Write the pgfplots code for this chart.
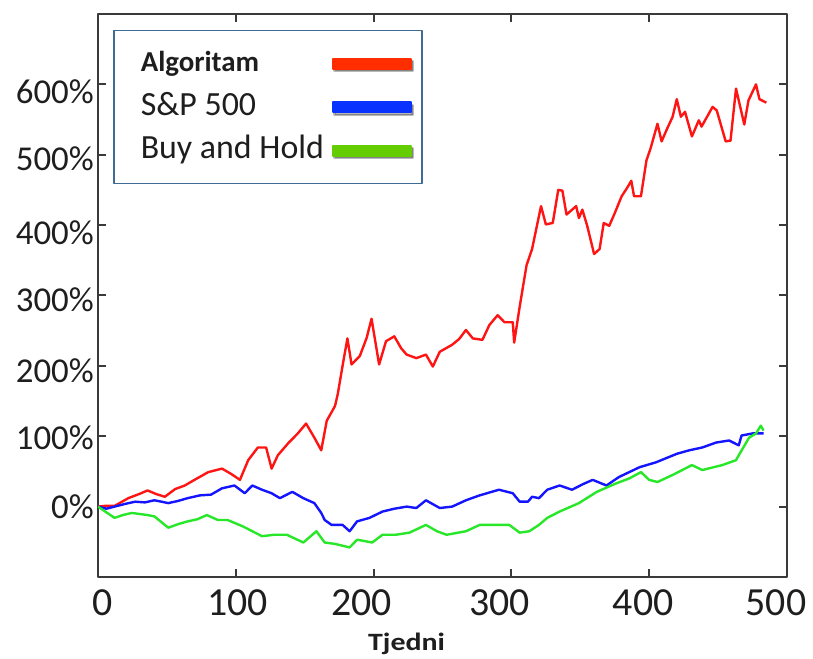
\documentclass[border=0pt]{standalone}
\usepackage{fontspec}
\setmainfont{Carlito}
\usepackage{graphicx}
\usepackage{pgfplots}
\pgfplotsset{compat=1.18}
\definecolor{axgray}{RGB}{58,58,58}
\definecolor{ticktext}{RGB}{30,30,30}
\definecolor{legblue}{RGB}{62,108,150}
\definecolor{lred}{RGB}{255,20,20}
\definecolor{lblue}{RGB}{20,20,255}
\definecolor{lgreen}{RGB}{40,230,40}
\definecolor{legred}{RGB}{255,45,0}
\definecolor{legbl}{RGB}{10,50,255}
\definecolor{leggr}{RGB}{100,205,0}
\newcommand{\xl}[2]{\makebox[0pt]{\hspace*{#1}#2}}
\newcommand{\yl}[2]{\raisebox{#1}[0pt][0pt]{#2}}
\begin{document}
\begin{tikzpicture}
\begin{axis}[
  scale only axis,
  width=689bp, height=563bp,
  xmin=0, xmax=500, ymin=-100, ymax=700,
  xtick={0,100,200,300,400,500},
  xticklabels={\xl{10bp}{0},\xl{4bp}{100},\xl{-24bp}{200},\xl{-24bp}{300},\xl{-12bp}{400},\xl{-22bp}{500}},
  ytick={0,100,200,300,400,500,600},
  yticklabels={\yl{-12bp}{0\%},\yl{-13bp}{100\%},\yl{-17bp}{200\%},\yl{-16bp}{300\%},\yl{-19bp}{400\%},\yl{-16bp}{500\%},\yl{-19bp}{600\%}},
  yticklabel style={font=\fontsize{35}{35}\selectfont, inner sep=0pt, xshift=-4bp, text=ticktext},
  xticklabel style={font=\fontsize{40}{40}\selectfont, inner sep=0pt, yshift=-12bp, text=ticktext},
  axis line style={line width=2.5bp, draw=axgray},
  tick style={line width=2bp, color=axgray},
  major tick length=8bp,
  xlabel={\fontsize{25}{25}\selectfont\bfseries\scalebox{1.2}[1]{Tjedni}},
  xlabel style={at={(axis description cs:0.4478,0)}, anchor=base, yshift=-74bp, text=ticktext},
  legend plot pos=right,
  legend cell align=left,
  legend style={at={(axis description cs:0.0218,0.9716)}, anchor=north west,
    draw=legblue, line width=1.5bp, fill=white,
    inner xsep=8bp, inner ysep=17bp, row sep=11.5bp, column sep=8bp,
    font=\fontsize{34}{34}\selectfont, text=ticktext,
    nodes={inner sep=0pt, text height=24bp, text depth=8bp}},
  line join=round,
]
\coordinate (sw) at (rel axis cs:0,0);
\coordinate (ne) at (rel axis cs:1,1);
\addplot[lred, line width=2.4bp,
  legend image code/.code={\fill[black,opacity=0.28] (1.5bp,-7.5bp) rectangle (79.5bp,2.5bp);\fill[legred] (0bp,-5bp) rectangle (78bp,5bp);}]
coordinates {(0,0)(5,1)(12,1)(22,12)(30,18)(36,23)(42,18)(48.5,14)(56,25)(63,30)(70,38)(80,49)(90,54)(97,46)(103,38)(109,66)(116,84)(122,84)(126,54)(130.5,73)(138,90)(145,104)(151,118)(157,98)(162,80)(166,122)(172,143)(174,160)(178,206)(181,239)(184,202)(190,214)(195,240)(198.5,267)(204,202)(209,235)(215,242)(220,225)(224,216)(231,211)(238,216)(243,199)(248,220)(257,230)(262,238)(267,251)(272,239)(279,237)(284,258)(290,272)(295,262)(301,262)(302,233)(306,284)(311,343)(315,366)(321.5,427)(325,401)(330,403)(334,450)(337,449)(340,415)(347,427)(349,410)(351.5,422)(355,399)(360,359)(364,366)(367,403)(371,399)(375,417)(380,441)(384,453)(387,463)(389,441)(394,441)(398,492)(401,509)(406,544)(409,519)(413,537)(417,554)(420,579)(423,554)(426,561)(431,526)(436,549)(438,540)(446,568)(449,563)(455.5,519)(459,520)(463,594)(469,543)(472,577)(477.5,600)(480,579)(485,574)};
\addlegendentry{\hspace*{19bp}{\fontsize{29}{29}\selectfont\bfseries Algoritam}}
\addplot[lblue, line width=2.4bp,
  legend image code/.code={\fill[black,opacity=0.28] (1.5bp,-7.5bp) rectangle (79.5bp,2.5bp);\fill[legbl] (0bp,-5bp) rectangle (78bp,5bp);}]
coordinates {(0,0)(6,-3)(12,0)(20,4)(27,7)(34,6)(41,9)(51,5)(58,8)(65,12)(74,16)(82,17)(90,26)(99,30)(106.5,19)(112,30)(119,24)(126,19)(132,12)(141,21)(149,12)(157,5)(162,-9)(164.5,-19)(169.5,-26)(177.5,-26)(182.6,-35)(188,-21)(197,-16)(206.5,-7)(215,-3)(224,0)(231,-2)(238,9)(248,-2)(257,0)(267,9)(277,16)(291,24)(301,19)(306,7)(312,7)(315,14)(320,12)(326,24)(335,30)(344,24)(352,32)(359,38)(369,30)(378,42)(393,56)(405,63)(420,75)(429,80)(438.5,84)(448.5,91)(458,94)(465,87)(467,101)(475,104)(483,104)};
\addlegendentry{\hspace*{19bp}S\&P 500}
\addplot[lgreen, line width=2.4bp,
  legend image code/.code={\fill[black,opacity=0.28] (1.5bp,-7.5bp) rectangle (79.5bp,2.5bp);\fill[leggr] (0bp,-5bp) rectangle (78bp,5bp);}]
coordinates {(0,0)(6,-8)(12,-16)(18,-12)(24.5,-9)(36,-12)(41,-14)(51,-30)(58,-25)(65,-21)(72,-18)(79,-12)(87,-19)(94,-19)(105,-28)(119,-42)(128,-40)(137,-40)(149,-51)(158.5,-35)(164.5,-51)(172,-53)(182.6,-58)(188,-47)(199,-51)(206.5,-40)(216,-40)(226,-37)(238,-26)(246,-35)(253,-40)(267,-35)(277,-26)(290,-26)(298.5,-26)(306,-37)(313,-35)(320,-26)(326,-16)(335,-7)(349,5)(362,21)(376,33)(385.5,40)(394,49)(400,38)(406,35)(417,45)(431,59)(438.5,52)(453,59)(463,66)(465,73)(472.5,98)(477.5,104)(481,115)(483,108)};
\addlegendentry{\hspace*{19bp}Buy and Hold}
\end{axis}
\pgfresetboundingbox
\path[use as bounding box] ([shift={(-98bp,-82bp)}]sw) rectangle ([shift={(26bp,14bp)}]ne);
\end{tikzpicture}
\end{document}
